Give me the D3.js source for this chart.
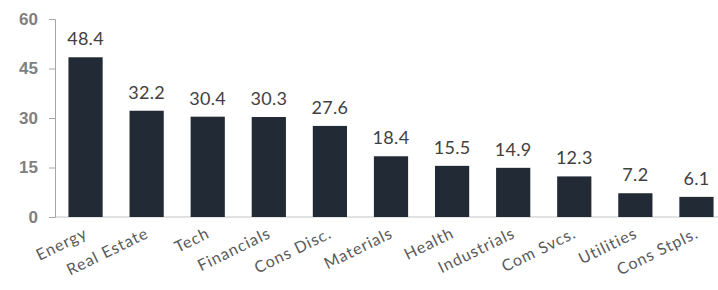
<!DOCTYPE html>
<html>
<head>
<meta charset="utf-8">
<script src="https://cdn.jsdelivr.net/npm/d3@7"></script>
<style>
body { margin: 0; background: #fff; }
svg { display: block; font-family: "Lato", "Open Sans", sans-serif; }
</style>
</head>
<body>
<svg></svg>
<script>
var width = 718;
var height = 290;

// sectors and values
var sectors = ["Energy", "Real Estate", "Tech", "Financials", "Cons Disc.", "Materials",
    "Health", "Industrials", "Com Svcs.", "Utilities", "Cons Stpls."];
var values = [48.4, 32.2, 30.4, 30.3, 27.6, 18.4, 15.5, 14.9, 12.3, 7.2, 6.1];
var yTicks = [0, 15, 30, 45, 60];

var svg = d3.select("svg")
    .attr("width", width)
    .attr("height", height);

var x = d3.scaleBand()
    .domain(sectors)
    .range([55, 727])
    .paddingInner(0.44)
    .paddingOuter(0.22);

var y = d3.scaleLinear()
    .domain([0, 60])
    .range([217, 19]);

// baseline
svg.append("line")
    .attr("x1", 55).attr("x2", width)
    .attr("y1", y(0)).attr("y2", y(0))
    .style("stroke", "#d9d9d9")
    .style("stroke-width", 1.5);

// y axis
var yAxis = svg.append("g")
    .attr("transform", "translate(55,0)")
    .call(d3.axisLeft(y).tickValues(yTicks).tickSize(6).tickPadding(11));
yAxis.select(".domain").style("stroke", "#a6a6a6");
yAxis.selectAll(".tick line").style("stroke", "#a6a6a6");
yAxis.selectAll("text")
    .style("font-size", "17px")
    .style("font-weight", "bold")
    .style("fill", "#7f7f7f");

// bars
svg.append("g").selectAll("rect")
    .data(values)
    .enter().append("rect")
    .attr("x", function(d, i) { return x(sectors[i]); })
    .attr("y", function(d) { return y(d); })
    .attr("width", x.bandwidth())
    .attr("height", function(d) { return y(0) - y(d); })
    .style("fill", "#222a35");

// value labels
svg.append("g").selectAll("text")
    .data(values)
    .enter().append("text")
    .attr("x", function(d, i) { return x(sectors[i]) + x.bandwidth() / 2; })
    .attr("y", function(d) { return y(d) - 12; })
    .attr("text-anchor", "middle")
    .style("font-size", "18px")
    .style("letter-spacing", "0.3px")
    .style("fill", "#404040")
    .text(function(d) { return d.toFixed(1); });

// category labels, tilted
svg.append("g").selectAll("text")
    .data(sectors)
    .enter().append("text")
    .attr("text-anchor", "end")
    .attr("transform", function(d) {
        return "translate(" + (x(d) + x.bandwidth() / 2 + 3) + ",237) rotate(-26)";
    })
    .style("font-size", "16px")
    .style("letter-spacing", "1px")
    .style("fill", "#595959")
    .text(function(d) { return d; });
</script>
</body>
</html>
